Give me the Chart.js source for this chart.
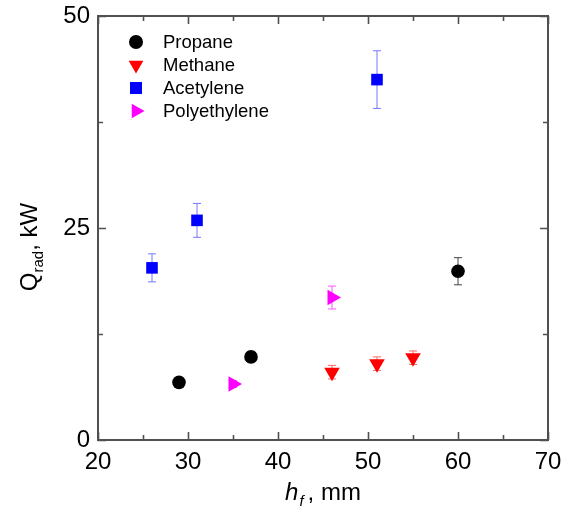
<!DOCTYPE html>
<html>
<head>
<meta charset="utf-8">
<script src="https://cdn.jsdelivr.net/npm/chart.js@4.4.1/dist/chart.umd.min.js"></script>
<style>
  html, body { margin: 0; padding: 0; background: #fff; }
  #wrap { width: 569px; height: 523px; }
</style>
</head>
<body>
<div id="wrap"><canvas id="chart" width="569" height="523"></canvas></div>
<script>
// Data (h_f in mm, Q_rad in kW)
const propaneX = [29, 37, 60];
const propaneY = [6.8, 9.8, 19.9];
const propaneErr = [0.3, 0.6, 1.6];

const methaneX = [46, 51, 55];
const methaneY = [8.0, 9.0, 9.7];
const methaneErr = [0.8, 0.8, 0.8];

const acetyleneX = [26, 31, 51];
const acetyleneY = [20.3, 25.9, 42.5];
const acetyleneErr = [1.65, 2.0, 3.4];

const polyX = [35, 46];
const polyY = [6.6, 16.8];
const polyErr = [0.4, 1.35];

const xTicks = [20, 30, 40, 50, 60, 70];
const yTicks = [0, 25, 50];

const FONT = "Arial, 'Liberation Sans', sans-serif";

function pts(xs, ys) {
    return xs.map((x, i) => ({ x: x, y: ys[i] }));
}

const datasets = [
    { label: "Propane", data: pts(propaneX, propaneY), err: propaneErr,
      pointStyle: "circle", radius: 6.8, rotation: 0,
      backgroundColor: "#000000", borderColor: "#000000", errColor: "#444444" },
    { label: "Methane", data: pts(methaneX, methaneY), err: methaneErr,
      pointStyle: "triangle", radius: 9, rotation: 180,
      backgroundColor: "#ff0000", borderColor: "#ff0000", errColor: "#ff6666" },
    { label: "Acetylene", data: pts(acetyleneX, acetyleneY), err: acetyleneErr,
      pointStyle: "rect", radius: 8.2, rotation: 0,
      backgroundColor: "#0000ff", borderColor: "#0000ff", errColor: "#7777ff" },
    { label: "Polyethylene", data: pts(polyX, polyY), err: polyErr,
      pointStyle: "triangle", radius: 9, rotation: 90,
      backgroundColor: "#ff00ff", borderColor: "#ff00ff", errColor: "#ff55ff" }
];

// simple marker for the legend
function marker(ctx, style, x, y, r, rot, color) {
    ctx.save();
    ctx.fillStyle = color;
    ctx.translate(x, y);
    ctx.rotate(rot * Math.PI / 180);
    ctx.beginPath();
    if (style === "circle") {
        ctx.arc(0, 0, r, 0, Math.PI * 2);
    } else if (style === "rect") {
        const s = Math.SQRT1_2 * r;
        ctx.rect(-s, -s, 2 * s, 2 * s);
    } else {
        for (let k = 0; k < 3; k++) {
            const a = k * 2 * Math.PI / 3;
            ctx.lineTo(Math.sin(a) * r, -Math.cos(a) * r);
        }
        ctx.closePath();
    }
    ctx.fill();
    ctx.restore();
}

const framePlugin = {
    id: "frame",
    beforeDatasetsDraw(chart) {
        // error bars behind the markers
        const ctx = chart.ctx;
        const xs = chart.scales.x, ys = chart.scales.y;
        ctx.save();
        ctx.lineWidth = 1;
        chart.data.datasets.forEach(ds => {
            ctx.strokeStyle = ds.errColor;
            ds.data.forEach((p, i) => {
                const px = xs.getPixelForValue(p.x);
                const top = ys.getPixelForValue(p.y + ds.err[i]);
                const bot = ys.getPixelForValue(p.y - ds.err[i]);
                ctx.beginPath();
                ctx.moveTo(px, top); ctx.lineTo(px, bot);
                ctx.moveTo(px - 4, top); ctx.lineTo(px + 4, top);
                ctx.moveTo(px - 4, bot); ctx.lineTo(px + 4, bot);
                ctx.stroke();
            });
        });
        ctx.restore();
    },
    afterDraw(chart) {
        const ctx = chart.ctx;
        const a = chart.chartArea;
        const xs = chart.scales.x, ys = chart.scales.y;
        ctx.save();
        ctx.strokeStyle = "#505050";
        ctx.lineWidth = 2;
        ctx.strokeRect(a.left, a.top, a.right - a.left, a.bottom - a.top);

        // inward ticks on all four sides
        ctx.lineWidth = 1.6;
        ctx.beginPath();
        for (let v = 20; v <= 70; v += 5) {
            const px = Math.round(xs.getPixelForValue(v)) + 0.5;
            const len = v % 10 === 0 ? 8 : 5;
            ctx.moveTo(px, a.bottom); ctx.lineTo(px, a.bottom - len);
            ctx.moveTo(px, a.top); ctx.lineTo(px, a.top + len);
        }
        for (let v = 0; v <= 50; v += 12.5) {
            const py = Math.round(ys.getPixelForValue(v)) + 0.5;
            const len = v % 25 === 0 ? 8 : 5;
            ctx.moveTo(a.left, py); ctx.lineTo(a.left + len, py);
            ctx.moveTo(a.right, py); ctx.lineTo(a.right - len, py);
        }
        ctx.stroke();

        // legend
        ctx.fillStyle = "#000";
        ctx.textBaseline = "middle";
        ctx.font = "18.5px " + FONT;
        chart.data.datasets.forEach((ds, i) => {
            const y = a.top + 26 + i * 23;
            marker(ctx, ds.pointStyle, a.left + 38, y, ds.pointStyle === "circle" ? 7 : 8.5,
                   ds.rotation, ds.backgroundColor);
            ctx.fillText(ds.label, a.left + 65, y + 1);
        });

        // x title: h_f, mm
        ctx.textBaseline = "alphabetic";
        ctx.font = "italic 24px " + FONT;
        const wh = ctx.measureText("h").width;
        ctx.font = "italic 15px " + FONT;
        const wf = ctx.measureText("f").width;
        ctx.font = "24px " + FONT;
        const wr = ctx.measureText(", mm").width;
        let x0 = (a.left + a.right) / 2 - (wh + wf + 5 + wr) / 2;
        const by = 500;
        ctx.font = "italic 24px " + FONT;
        ctx.fillText("h", x0, by);
        ctx.font = "italic 15px " + FONT;
        ctx.fillText("f", x0 + wh + 1, by + 6);
        ctx.font = "24px " + FONT;
        ctx.fillText(", mm", x0 + wh + wf + 5, by);

        // y title: Q_rad, kW
        ctx.translate(37, 247);
        ctx.rotate(-Math.PI / 2);
        ctx.font = "24px " + FONT;
        const wq = ctx.measureText("Q").width;
        const wk = ctx.measureText(", kW").width;
        ctx.font = "15px " + FONT;
        const ws = ctx.measureText("rad").width;
        let s = -(wq + ws + wk) / 2;
        ctx.font = "24px " + FONT;
        ctx.fillText("Q", s, 0);
        ctx.font = "15px " + FONT;
        ctx.fillText("rad", s + wq, 6);
        ctx.font = "24px " + FONT;
        ctx.fillText(", kW", s + wq + ws, 0);
        ctx.restore();
    }
};

new Chart(document.getElementById("chart"), {
    type: "scatter",
    data: {
        datasets: datasets.map(d => ({
            label: d.label,
            data: d.data,
            err: d.err,
            errColor: d.errColor,
            pointStyle: d.pointStyle,
            pointRadius: d.radius,
            pointHoverRadius: d.radius,
            pointRotation: d.rotation,
            rotation: d.rotation,
            pointBorderWidth: 0,
            backgroundColor: d.backgroundColor,
            borderColor: d.borderColor
        }))
    },
    options: {
        responsive: false,
        animation: false,
        layout: { padding: { top: 16, right: 21, left: 0, bottom: 0 } },
        plugins: {
            legend: { display: false },
            tooltip: { enabled: false }
        },
        scales: {
            x: {
                type: "linear",
                min: 20, max: 70,
                afterBuildTicks: s => { s.ticks = xTicks.map(v => ({ value: v })); },
                afterFit: s => { s.height = 83; s.paddingLeft = 0; s.paddingRight = 0; },
                grid: { display: false, drawTicks: false },
                border: { display: false },
                ticks: { padding: 8, color: "#000", font: { family: FONT, size: 24 } }
            },
            y: {
                type: "linear",
                min: 0, max: 50,
                afterBuildTicks: s => { s.ticks = yTicks.map(v => ({ value: v })); },
                afterFit: s => { s.width = 98; s.paddingTop = 0; s.paddingBottom = 0; },
                grid: { display: false, drawTicks: false },
                border: { display: false },
                ticks: { padding: 8, color: "#000", font: { family: FONT, size: 24 } }
            }
        }
    },
    plugins: [framePlugin]
});
</script>
</body>
</html>
